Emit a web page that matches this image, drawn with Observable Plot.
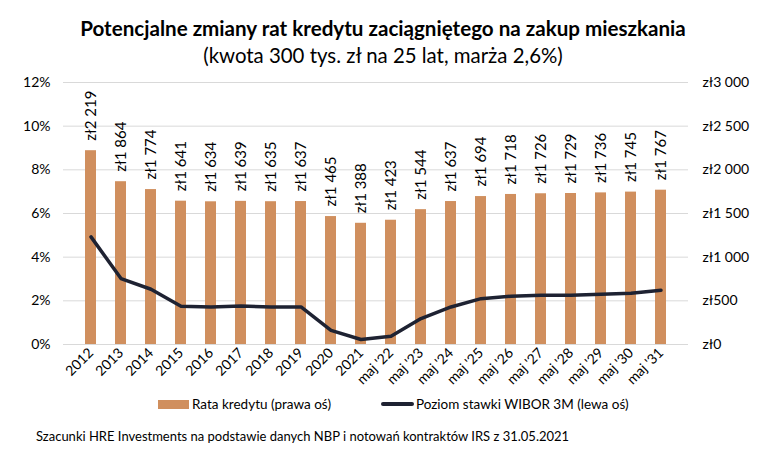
<!DOCTYPE html>
<html>
<head>
<meta charset="utf-8">
<script src="https://cdn.jsdelivr.net/npm/d3@7"></script>
<script src="https://cdn.jsdelivr.net/npm/@observablehq/plot@0.6"></script>
<style>
  html, body { margin: 0; padding: 0; background: #fff; }
  #wrap { position: relative; width: 766px; height: 462px; font-family: Lato, "Open Sans", sans-serif; color: #000; }
  .title { position: absolute; left: 0; width: 766px; text-align: center; top: 16px; font-size: 20.6px; font-weight: bold; }
  .subtitle { position: absolute; left: 0; width: 766px; text-align: center; top: 43px; font-size: 20.4px; }
  #chart { position: absolute; left: 0; top: 70px; }
  .legend { position: absolute; top: 396px; font-size: 13.5px; display: flex; align-items: center; }
  .caption { position: absolute; left: 36px; top: 428px; font-size: 13px; }
</style>
</head>
<body>
<div id="wrap">
  <div class="title">Potencjalne zmiany rat kredytu zaciągniętego na zakup mieszkania</div>
  <div class="subtitle">(kwota 300 tys. zł na 25 lat, marża 2,6%)</div>
  <div id="chart"></div>
  <div class="legend" style="left:158px"><span style="display:inline-block;width:31px;height:9px;background:#D08F5E;margin-right:3px"></span>Rata kredytu (prawa oś)</div>
  <div class="legend" style="left:381px"><span style="display:inline-block;width:33px;height:4px;border-radius:2px;background:#1E2232;margin-right:2px"></span>Poziom stawki WIBOR 3M (lewa oś)</div>
  <div class="caption">Szacunki HRE Investments na podstawie danych NBP i notowań kontraktów IRS z 31.05.2021</div>
</div>
<script>
const categories = ["2012","2013","2014","2015","2016","2017","2018","2019","2020","2021",
  "maj '22","maj '23","maj '24","maj '25","maj '26","maj '27","maj '28","maj '29","maj '30","maj '31"];
const rata = [2219,1864,1774,1641,1634,1639,1635,1637,1465,1388,1423,1544,1637,1694,1718,1726,1729,1736,1745,1767];
const wibor = [4.93,3.02,2.53,1.75,1.72,1.76,1.72,1.72,0.65,0.23,0.38,1.19,1.72,2.10,2.21,2.26,2.26,2.30,2.35,2.49];
const rightTicks = [0,500,1000,1500,2000,2500,3000];
const leftTicks = [0,2,4,6,8,10,12];

const ratio = 3000 / 12;
const data = categories.map((c, i) => ({cat: c, rata: rata[i], wibor: wibor[i], wiborY: wibor[i] * ratio}));
const zl = n => "zł" + String(n).replace(/\B(?=(\d{3})+(?!\d))/g, " ");

const chart = Plot.plot({
  width: 766,
  height: 325,
  marginTop: 12,
  marginBottom: 51,
  marginLeft: 63,
  marginRight: 78,
  style: {fontFamily: "Lato, 'Open Sans', sans-serif", fontSize: "14px", color: "#000", background: "#fff"},
  x: {domain: categories, padding: 0.64, label: null},
  y: {domain: [0, 3000], label: null},
  marks: [
    Plot.ruleY(rightTicks, {stroke: "#D9D9D9", strokeWidth: 1}),
    Plot.barY(data, {x: "cat", y: "rata", fill: "#D08F5E"}),
    Plot.line(data, {x: "cat", y: "wiborY", stroke: "#1E2232", strokeWidth: 3.5, curve: "linear", strokeLinejoin: "round", strokeLinecap: "round"}),
    Plot.text(data, {x: "cat", y: "rata", text: d => zl(d.rata), rotate: -90, textAnchor: "start", dy: -10, fontSize: 15, fill: "#000"}),
    Plot.axisY(leftTicks.map(v => v * ratio), {anchor: "left", tickSize: 0, tickPadding: 13, tickFormat: d => (d / ratio) + "%", fontSize: 14, label: null}),
    Plot.axisY(rightTicks, {anchor: "right", tickSize: 0, tickPadding: 14, tickFormat: zl, fontSize: 14, label: null}),
    Plot.axisX({tickSize: 0, tickRotate: -45, tickPadding: 6, fontSize: 14, label: null})
  ]
});
document.getElementById("chart").appendChild(chart);
</script>
</body>
</html>
